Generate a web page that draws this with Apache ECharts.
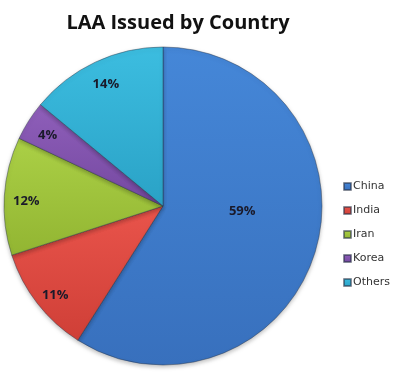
<!DOCTYPE html>
<html><head><meta charset="utf-8">
<script src="https://cdn.jsdelivr.net/npm/echarts@6/dist/echarts.min.js"></script>
<style>html,body{margin:0;padding:0;background:#fff}#c{width:396px;height:372px}</style>
</head><body><div id="c"></div>
<script>
var categories = ['China', 'India', 'Iran', 'Korea', 'Others'];
var values = [59, 11, 12, 4, 14];
var colors = [['#4587d8', '#3870bd'], ['#e9544b', '#cf3f37'], ['#abd046', '#92b532'], ['#8f5fba', '#7448a0'], ['#3cbde0', '#2aa2c6']];

function grad(c) {
  return new echarts.graphic.LinearGradient(0, 0, 0, 1, [{offset: 0, color: c[0]}, {offset: 1, color: c[1]}]);
}
var labelStyle = {formatter: '{c}%', fontFamily: 'Open Sans', fontWeight: 'bold', fontSize: 13, color: '#1a1a2a'};
var mainData = categories.map(function (n, i) {
  return {name: n, value: values[i], itemStyle: {color: grad(colors[i])},
    label: {show: i === 0, offset: [0, -18]}};
});
var overlayData = categories.map(function (n, i) {
  return {name: n, value: values[i], label: {show: i !== 0, offset: [2, 4]}};
});
var chart = echarts.init(document.getElementById('c'), null, {renderer: 'canvas'});
chart.setOption({
  animation: false,
  title: {text: 'LAA Issued by Country', left: 173, top: 8, textAlign: 'center',
    textStyle: {fontFamily: 'Open Sans', fontWeight: 'bold', fontSize: 20, color: '#111'}},
  legend: {orient: 'vertical', left: 338, top: 176, itemWidth: 7, itemHeight: 7, itemGap: 13,
    icon: 'rect', data: categories,
    textStyle: {fontFamily: 'DejaVu Sans', fontSize: 11, color: '#333', padding: [0, 0, 0, -3]}},
  series: [{
    type: 'pie', center: [163, 206], radius: [0, 159], startAngle: 90, clockwise: true,
    data: mainData, silent: true,
    itemStyle: {borderColor: 'rgba(40,50,70,0.55)', borderWidth: 0.8,
      shadowColor: 'rgba(0,0,0,0.25)', shadowBlur: 4, shadowOffsetY: 2},
    label: Object.assign({position: 'inside'}, labelStyle),
    labelLine: {show: false}
  }, {
    type: 'pie', center: [163, 206], radius: [0, 272], startAngle: 90, clockwise: true,
    data: overlayData, silent: true, legendHoverLink: false,
    itemStyle: {color: 'rgba(0,0,0,0)', opacity: 0},
    label: Object.assign({position: 'inside', opacity: 1}, labelStyle),
    labelLine: {show: false}, z: 3
  }]
});
</script></body></html>
